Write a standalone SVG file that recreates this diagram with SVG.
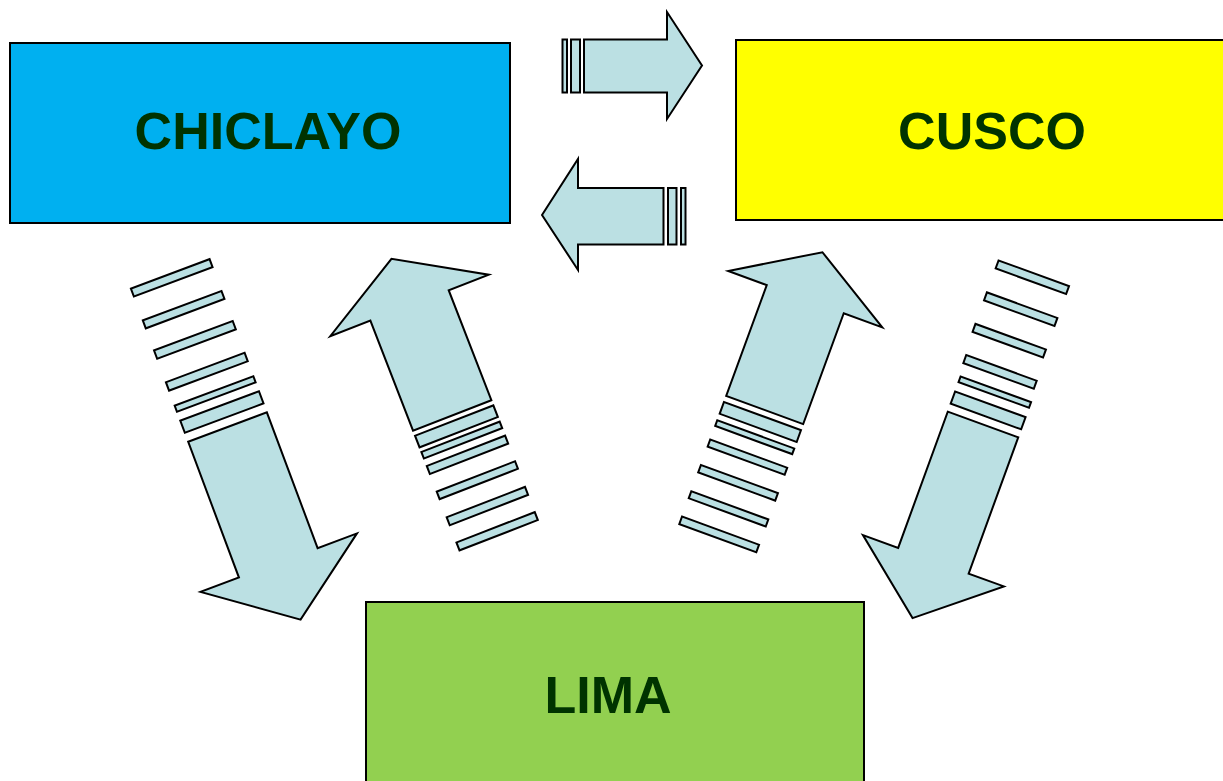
<svg xmlns="http://www.w3.org/2000/svg" width="1223" height="781" viewBox="0 0 1223 781">
<style>
.box{stroke:#000;stroke-width:2}
.lbl{font-family:"Liberation Sans",Arial,sans-serif;font-weight:bold;font-size:52px;fill:#003300;text-anchor:middle}
.arr polygon,.arr rect{fill:#BBE0E3;stroke:#000;stroke-width:2;stroke-linejoin:miter}
</style>
<rect width="1223" height="781" fill="#fff"/>
<g id="chiclayo">
<rect class="box" x="10" y="43" width="500" height="180" fill="#00B0F0"/>
<text class="lbl" x="268" y="149">CHICLAYO</text>
</g>
<g id="cusco">
<rect class="box" x="736" y="40" width="500" height="180" fill="#FFFF00"/>
<text class="lbl" x="992" y="149">CUSCO</text>
</g>
<g id="lima">
<rect class="box" x="366" y="602" width="498" height="190" fill="#92D050"/>
<text class="lbl" x="608" y="713">LIMA</text>
</g>
<g id="connectors" class="arr">
<g id="chiclayo-cusco">
<rect x="562.5" y="39.5" width="4.5" height="53"/>
<rect x="571" y="39.5" width="9" height="53"/>
<polygon points="584,39.5 667,39.5 667,12 702,65.5 667,119 667,92.5 584,92.5"/>
</g>
<g id="cusco-chiclayo">
<rect x="681" y="188" width="4.5" height="56.5"/>
<rect x="668" y="188" width="8.5" height="56.5"/>
<polygon points="542,215 578,159 578,188 663.5,188 663.5,244.5 578,244.5 578,270"/>
</g>
<g id="chiclayo-lima" transform="translate(227.5,427) rotate(-20.5)">
<rect x="-42" y="-163.5" width="84" height="8.5"/>
<rect x="-42" y="-129.5" width="84" height="8.5"/>
<rect x="-42" y="-97.5" width="84" height="9"/>
<rect x="-42" y="-63.5" width="84" height="9"/>
<rect x="-42" y="-38.5" width="84" height="6.5"/>
<rect x="-42" y="-22.5" width="84" height="13"/>
<polygon points="-42,0 42,0 42,145 84,145 1,206 -83,145 -42,145"/>
</g>
<g id="lima-chiclayo" transform="translate(452.2,415.4) rotate(158.8)">
<rect x="-42" y="-128.5" width="84" height="8.5"/>
<rect x="-42" y="-101.5" width="84" height="8.5"/>
<rect x="-42" y="-73.5" width="84" height="8"/>
<rect x="-42" y="-46.5" width="84" height="8.5"/>
<rect x="-42" y="-30" width="84" height="7"/>
<rect x="-42" y="-18" width="84" height="12.5"/>
<polygon points="-42,0 42,0 42,118 85,118 0,168 -85,118 -42,118"/>
</g>
<g id="lima-cusco" transform="translate(764.7,410) rotate(-159.9)">
<rect x="-41" y="-136.5" width="82" height="8"/>
<rect x="-41" y="-109" width="82" height="7.5"/>
<rect x="-41" y="-81.5" width="82" height="8"/>
<rect x="-41" y="-54" width="82" height="7.5"/>
<rect x="-41" y="-32" width="82" height="6"/>
<rect x="-41" y="-19" width="82" height="12.5"/>
<polygon points="-41,0 41,0 41,118 82,118 0,168 -82,118 -41,118"/>
</g>
<g id="cusco-lima" transform="translate(983,424.5) rotate(20)">
<rect x="-41.5" y="-159.5" width="75" height="8.5"/>
<rect x="-41.5" y="-125.5" width="75" height="8.5"/>
<rect x="-41.5" y="-92" width="75" height="8.5"/>
<rect x="-39.5" y="-59.5" width="75" height="8.5"/>
<rect x="-37.5" y="-37.5" width="75" height="6"/>
<rect x="-37.5" y="-21.5" width="75" height="13"/>
<polygon points="-37.5,0 37.5,0 37.5,145 75,145 0,206 -75,145 -37.5,145"/>
</g>
</g>
</svg>
